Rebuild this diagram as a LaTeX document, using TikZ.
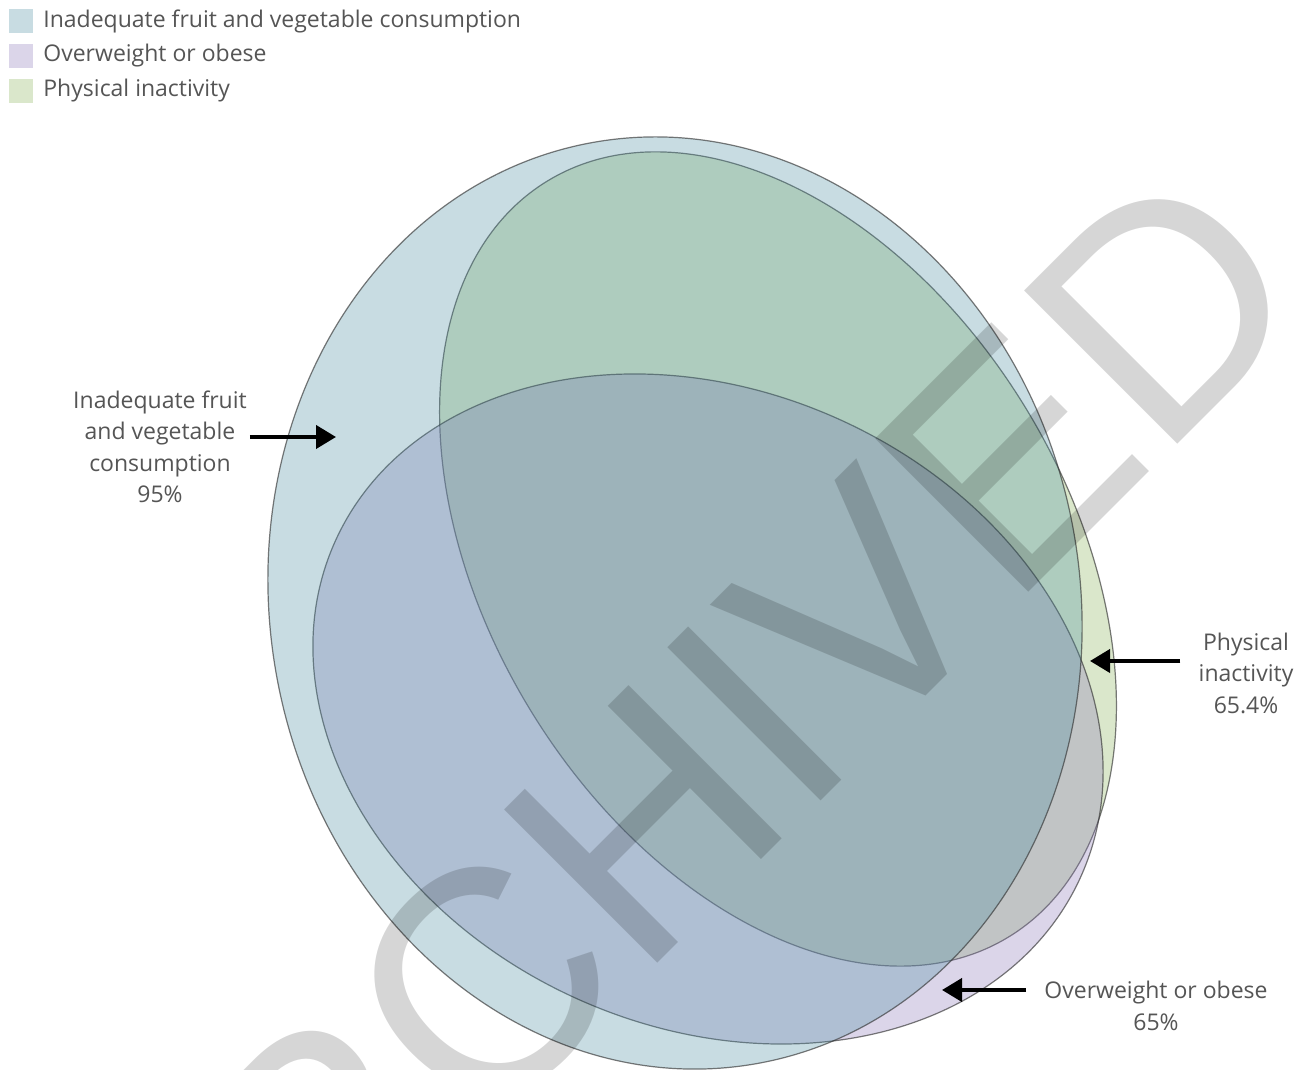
\documentclass[tikz,border=0pt]{standalone}
\usepackage{fontspec}
\setmainfont{Open Sans}
\newfontfamily\stampfont{Liberation Sans}
\usetikzlibrary{positioning,arrows.meta}
\definecolor{fruitblue}{RGB}{75,142,162}
\definecolor{obesepurple}{RGB}{138,118,185}
\definecolor{inactgreen}{RGB}{135,178,85}
\definecolor{labelgrey}{RGB}{85,85,85}

\begin{document}
\begin{tikzpicture}[x=1pt,y=1pt,
    blob/.style={draw=black!80,draw opacity=0.65,line width=1.2pt,fill opacity=0.3},
    swatch/.style={minimum size=24pt,inner sep=0pt,fill opacity=0.3},
    keytext/.style={text=labelgrey,font=\fontsize{23}{26}\selectfont,inner sep=0pt},
    callout/.style={text=labelgrey,font=\fontsize{23}{31.5}\selectfont,align=center,inner sep=0pt},
    pointer/.style={line width=4pt,-{Triangle[length=20pt,width=23pt]}}]
    \useasboundingbox (0,0) rectangle (1303,1070);
    \fill[white] (0,0) rectangle (1303,1070);
    \clip (0,0) rectangle (1303,1070);
    % legend
    \node[swatch,fill=fruitblue] (kfruit) at (21,1049) {};
    \node[swatch,fill=obesepurple] (kobese) at (21,1014) {};
    \node[swatch,fill=inactgreen] (kinact) at (21,979) {};
    \node[keytext,right=10pt of kfruit] (tfruit) {Inadequate fruit and vegetable consumption};
    \node[keytext,right=10pt of kobese] (tobese) {Overweight or obese};
    \node[keytext,right=10pt of kinact] (tinact) {Physical inactivity};
    % the three sets
    \draw[blob,fill=inactgreen,rotate around={-58.6:(778,511)}] (778,511) ellipse [x radius=442.8,y radius=290.1];
    \draw[blob,fill=obesepurple,rotate around={-24.2:(708,361)}] (708,361) ellipse [x radius=408.8,y radius=318];
    \draw[blob,fill=fruitblue,rotate around={10:(675,467)}] (675,467) ellipse [x radius=405,y radius=467.8];
    % watermark
    \node[rotate=45,text=black,text opacity=0.16,inner sep=0pt,font=\stampfont\fontsize{315}{315}\selectfont] (stamp) at (668,270) {ARCHIVED};
    % callouts
    \node[callout] (fruitlbl) at (160,623) {Inadequate fruit\\and vegetable\\consumption\\95\%};
    \node[callout] (inactlbl) at (1246,397) {Physical\\inactivity\\65.4\%};
    \node[callout] (obeselbl) at (1156,64) {Overweight or obese\\65\%};
    \coordinate (fruittip) at (336,633);
    \coordinate (inacttip) at (1090,409);
    \coordinate (obesetip) at (942,80);
    \draw[pointer] ([xshift=3pt]fruitlbl.east |- fruittip) -- (fruittip);
    \draw[pointer] ([xshift=-18pt]inactlbl.west |- inacttip) -- (inacttip);
    \draw[pointer] ([xshift=-18pt]obeselbl.west |- obesetip) -- (obesetip);
\end{tikzpicture}
\end{document}
